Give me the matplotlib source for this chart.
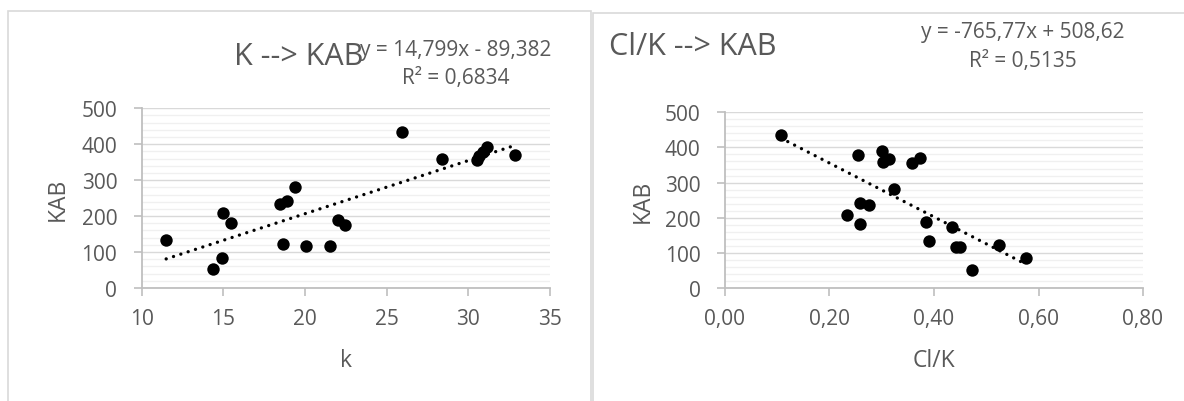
import matplotlib.pyplot as plt
from matplotlib.patches import Rectangle
from matplotlib.ticker import MultipleLocator, FuncFormatter

# samples: KAB against k and against the Cl/K ratio
kab = [52, 84, 117, 117, 122, 134, 174, 182, 189, 208,
       235, 243, 282, 356, 358, 367, 369, 378, 391, 435]
k = [14.40, 14.91, 20.08, 21.56, 18.67, 11.51, 22.48, 15.50, 22.05, 15.01,
     18.47, 18.88, 19.41, 30.54, 28.36, 30.64, 32.86, 30.93, 31.17, 25.96]
cl_k = [0.473, 0.577, 0.442, 0.450, 0.524, 0.391, 0.435, 0.259, 0.384, 0.233,
        0.276, 0.259, 0.324, 0.358, 0.302, 0.313, 0.373, 0.255, 0.300, 0.107]

# linear trendlines (slope, intercept, R^2)
fit_k = (14.799, -89.382, 0.6834)
fit_clk = (-765.77, 508.62, 0.5135)

plt.rcParams['font.family'] = ['Open Sans', 'DejaVu Sans']
TXT = '#595959'
W, H = 1184, 402

fig = plt.figure(figsize=(W / 100, H / 100), dpi=100)

def px(x, y):
    return x / W, 1 - y / H

# chart frames
for x0, y0, x1, y1 in [(8, 12, 591, 420), (593, 14, 1200, 420)]:
    fig.patches.append(Rectangle(px(x0, y1), (x1 - x0) / W, (y1 - y0) / H,
                                 transform=fig.transFigure, fill=False,
                                 edgecolor='#d9d9d9', lw=1.2))

def num(v, dec):
    return f'{abs(v):.{dec}f}'.replace('.', ',')

def make_ax(rect, xs, fit, xlim, xstep, xfmt, xlabel):
    ax = fig.add_axes(rect)
    ax.set_xlim(*xlim)
    ax.set_ylim(0, 500)
    ax.yaxis.set_major_locator(MultipleLocator(100))
    ax.yaxis.set_minor_locator(MultipleLocator(20))
    ax.xaxis.set_major_locator(MultipleLocator(xstep))
    ax.xaxis.set_major_formatter(FuncFormatter(xfmt))
    ax.grid(which='major', axis='y', color='#d9d9d9', lw=1.0, zorder=0)
    ax.grid(which='minor', axis='y', color='#f0f0f0', lw=1.0, zorder=0)
    ax.set_axisbelow(True)
    for s in ['top', 'right']:
        ax.spines[s].set_visible(False)
    for s in ['left', 'bottom']:
        ax.spines[s].set_color('#bfbfbf')
        ax.spines[s].set_linewidth(1.3)
    ax.tick_params(which='major', length=5.5, width=1.2, color='#bfbfbf',
                   labelcolor=TXT, labelsize=15)
    ax.tick_params(which='minor', length=0)
    ax.tick_params(axis='y', pad=12)
    ax.tick_params(axis='x', pad=9)

    ax.scatter(xs, kab, s=80, color='black', zorder=3, linewidths=0)
    slope, icpt, r2 = fit
    x0, x1 = min(xs), max(xs)
    ax.plot([x0, x1], [slope * x0 + icpt, slope * x1 + icpt], color='black',
            lw=2.4, dashes=(0.01, 2.3), dash_capstyle='round', zorder=2)

    ax.set_ylabel('KAB', color=TXT, fontsize=16.5, va='center')
    ax.set_xlabel(xlabel, color=TXT, fontsize=16.5, va='baseline')
    return ax

axl = make_ax([141.5 / W, 1 - 289 / H, 408.5 / W, 179.7 / H], k, fit_k,
              (10, 35), 5, lambda v, p: f'{v:.0f}', 'k')
axl.yaxis.set_label_coords(-0.204, 0.5)
axl.xaxis.set_label_coords(0.5, -0.434)

axr = make_ax([725 / W, 1 - 289 / H, 418 / W, 175.7 / H], cl_k, fit_clk,
              (0, 0.8), 0.2, lambda v, p: num(v, 2), 'Cl/K')
axr.yaxis.set_label_coords(-0.196, 0.5)
axr.xaxis.set_label_coords(0.5, -0.444)

# titles
fig.text(*px(299, 65), 'K --> KAB', fontsize=22, color=TXT,
         ha='center', va='baseline')
fig.text(*px(693, 55), 'Cl/K --> KAB', fontsize=22, color=TXT,
         ha='center', va='baseline')

# trendline equations
def eq(fit):
    slope, icpt, r2 = fit
    sign = '-' if icpt < 0 else '+'
    sl = ('-' if slope < 0 else '') + num(slope, 3 if abs(slope) < 100 else 2)
    return (f'y = {sl}x {sign} {num(icpt, 3 if abs(icpt) < 100 else 2)}',
            f'R² = {num(r2, 4)}')

l1, l2 = eq(fit_k)
fig.text(*px(456, 56), l1, fontsize=15, color=TXT, ha='center', va='baseline')
fig.text(*px(456, 84), l2, fontsize=15, color=TXT, ha='center', va='baseline')
r1, r2 = eq(fit_clk)
fig.text(*px(1023, 38), r1, fontsize=15, color=TXT, ha='center', va='baseline')
fig.text(*px(1023, 67), r2, fontsize=15, color=TXT, ha='center', va='baseline')

fig.savefig('out.png', dpi=100)
